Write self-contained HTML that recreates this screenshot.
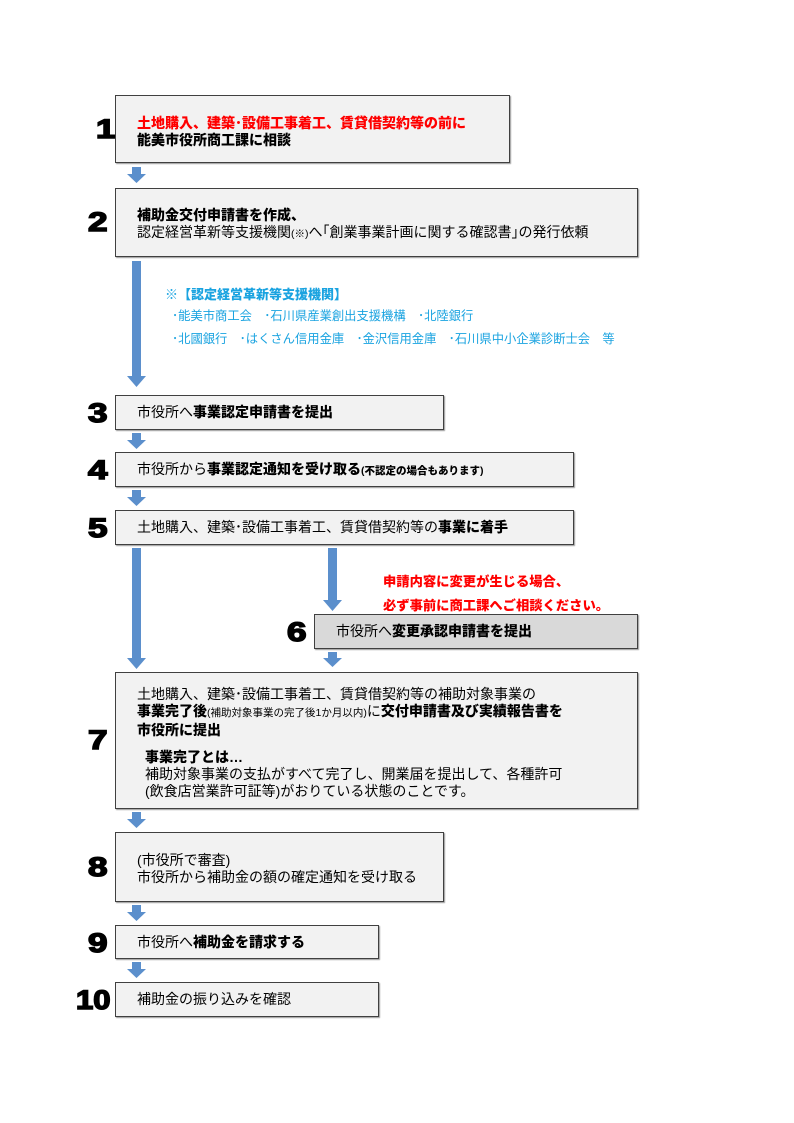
<!DOCTYPE html>
<html><head><meta charset="utf-8"><style>
body{margin:0;width:794px;height:1123px;background:#fff;position:relative;font-family:"Liberation Sans","Noto Sans CJK JP",sans-serif;overflow:hidden}
.b{position:absolute;background:#f2f2f2;border:1.3px solid #404040;box-sizing:border-box;box-shadow:1px 1px 1px #999;font-size:14px;color:#000;line-height:17px}
.n{position:absolute;font-weight:900;font-size:27px;font-family:"Liberation Sans","Noto Sans CJK JP",sans-serif;color:#000;-webkit-text-stroke:1.5px #000;transform:scaleX(1.3);transform-origin:left top}
.t{position:absolute;white-space:nowrap}
b{font-weight:900}
.r{color:#f00;font-weight:900}
.c{color:#1aa3e0}
.s{font-size:10.5px}
</style></head><body>
<svg width="794" height="1123" style="position:absolute;left:0;top:0">
<g fill="#5b8fcc">
<path d="M132 167h9v7h5l-9.5 9l-9.5-9h5z"/>
<path d="M132 261h9v115h5l-9.5 11l-9.5-11h5z"/>
<path d="M132 433h9v7h5l-9.5 9l-9.5-9h5z"/>
<path d="M132 490h9v7h5l-9.5 9l-9.5-9h5z"/>
<path d="M132 548h9v110h5l-9.5 11l-9.5-11h5z"/>
<path d="M328 548h9v52h5l-9.5 11l-9.5-11h5z"/>
<path d="M328 652h9v6h5l-9.5 9l-9.5-9h5z"/>
<path d="M132 812h9v7h5l-9.5 9l-9.5-9h5z"/>
<path d="M132 905h9v7h5l-9.5 9l-9.5-9h5z"/>
<path d="M132 962h9v7h5l-9.5 9l-9.5-9h5z"/>
</g></svg>

<div class="n" style="left:96px;top:114px">1</div>
<div class="b" style="left:115px;top:95px;width:395px;height:68px"><div class="t" style="left:21px;top:19px"><span class="r">土地購入、建築･設備工事着工、賃貸借契約等の前に</span><br><b>能美市役所商工課に相談</b></div></div>

<div class="n" style="left:88px;top:207px">2</div>
<div class="b" style="left:115px;top:188px;width:523px;height:69px"><div class="t" style="left:21px;top:18px"><b>補助金交付申請書を作成、</b><br>認定経営革新等支援機関<span class="s">(※)</span>へ｢創業事業計画に関する確認書｣の発行依頼</div></div>

<div class="t c" style="left:165px;top:284px;font-size:13px;font-weight:900">※【認定経営革新等支援機関】</div>
<div class="t c" style="left:172px;top:306px;font-size:12.3px">･能美市商工会　･石川県産業創出支援機構　･北陸銀行</div>
<div class="t c" style="left:172px;top:329px;font-size:12.3px">･北國銀行　･はくさん信用金庫　･金沢信用金庫　･石川県中小企業診断士会　等</div>

<div class="n" style="left:88px;top:398px">3</div>
<div class="b" style="left:115px;top:395px;width:329px;height:35px"><div class="t" style="left:21px;top:8px">市役所へ<b>事業認定申請書を提出</b></div></div>

<div class="n" style="left:88px;top:455px">4</div>
<div class="b" style="left:115px;top:452px;width:459px;height:35px"><div class="t" style="left:21px;top:8px">市役所から<b>事業認定通知を受け取る</b><b class="s">(不認定の場合もあります)</b></div></div>

<div class="n" style="left:88px;top:513px">5</div>
<div class="b" style="left:115px;top:510px;width:459px;height:35px"><div class="t" style="left:21px;top:8px">土地購入、建築･設備工事着工、賃貸借契約等の<b>事業に着手</b></div></div>

<div class="t r" style="left:383px;top:571px;font-size:13.3px">申請内容に変更が生じる場合、</div>
<div class="t r" style="left:383px;top:595px;font-size:13.3px">必ず事前に商工課へご相談ください。</div>

<div class="n" style="left:287px;top:617px">6</div>
<div class="b" style="left:314px;top:614px;width:324px;height:35px;background:#d9d9d9"><div class="t" style="left:21px;top:8px">市役所へ<b>変更承認申請書を提出</b></div></div>

<div class="n" style="left:88px;top:725px">7</div>
<div class="b" style="left:115px;top:672px;width:523px;height:137px"><div class="t" style="left:21px;top:13px">土地購入、建築･設備工事着工、賃貸借契約等の補助対象事業の<br><b>事業完了後</b><span class="s">(補助対象事業の完了後1か月以内)</span>に<b>交付申請書及び実績報告書を</b><br><b>市役所に提出</b></div>
<div class="t" style="left:29px;top:76px"><b>事業完了とは…</b><br>補助対象事業の支払がすべて完了し、開業届を提出して、各種許可<br>(飲食店営業許可証等)がおりている状態のことです。</div></div>

<div class="n" style="left:88px;top:852px">8</div>
<div class="b" style="left:115px;top:832px;width:329px;height:70px"><div class="t" style="left:21px;top:19px">(市役所で審査)<br>市役所から補助金の額の確定通知を受け取る</div></div>

<div class="n" style="left:88px;top:928px">9</div>
<div class="b" style="left:115px;top:925px;width:264px;height:34px"><div class="t" style="left:21px;top:8px">市役所へ<b>補助金を請求する</b></div></div>

<div class="n" style="left:76px;top:985px;transform:scaleX(1.15)">10</div>
<div class="b" style="left:115px;top:982px;width:264px;height:35px"><div class="t" style="left:21px;top:8px">補助金の振り込みを確認</div></div>
</body></html>
